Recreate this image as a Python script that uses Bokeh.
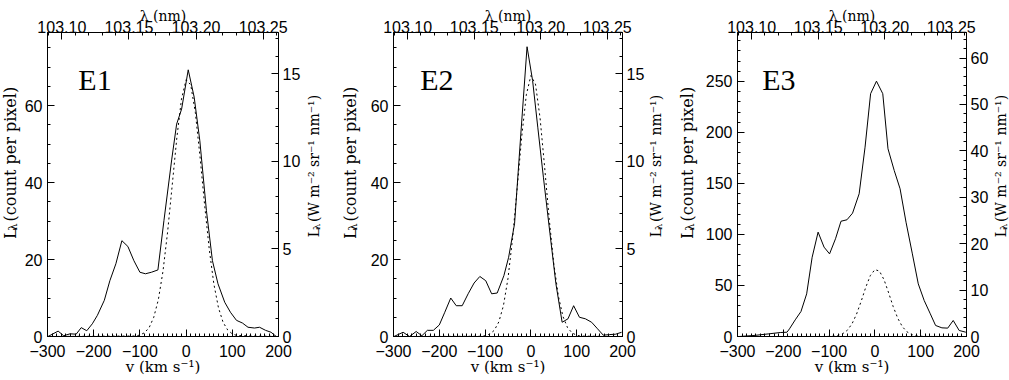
import math
from bokeh.plotting import figure
from bokeh.models import Range1d, LinearAxis, FixedTicker, Label, NumeralTickFormatter
from bokeh.layouts import row
from bokeh.embed import file_html
from bokeh.resources import INLINE

# ---------------- data ----------------
panel_names = ["E1", "E2", "E3"]

# observed profiles: velocity (km/s) and L_lambda (count per pixel)
v_e1 = [-299, -277, -265, -251, -238, -227, -215, -203, -192, -177, -165, -152, -139, -126,
        -113, -100, -88, -75, -61, -48, -31, -20.5, -9.7, 4.6, 17.5, 29.7, 44, 57, 69, 83.6,
        96, 109, 122, 134, 148, 159, 172, 184, 195, 200]
c_e1 = [0, 1.4, 0.2, 0.7, 0.6, 2.3, 1.5, 3.3, 5.5, 9.4, 14.5, 18.9, 24.9, 23.4,
        19.7, 16.7, 16.3, 16.7, 17.3, 30.1, 46.1, 55.2, 59.1, 69.3, 62.2, 50.9, 32.7, 19.7, 13.7, 8.9,
        6.3, 4.2, 3.5, 2.4, 2.2, 2.4, 1.6, 1.1, 0, 0]

v_e2 = [-299, -279, -265, -250.5, -238, -226, -213, -200, -188, -175, -163, -150, -137, -124,
        -111.5, -98.6, -85.7, -73.6, -59, -48.6, -35.7, -22, -8.4, 3.7, 15, 27.3, 41.7, 54.6,
        68.2, 81, 93.3, 106, 119, 132.6, 145.5, 158, 172, 185, 198]
c_e2 = [0, 1.1, 0, 1.3, 0.2, 1.6, 1.6, 3.0, 6.3, 10.0, 8.0, 8.0, 11.1, 13.9,
        15.6, 14.5, 11.1, 11.3, 15.8, 20.6, 29.3, 52.6, 75.3, 66.5, 54.4, 41.4, 26.7, 13.7,
        3.7, 4.6, 8.0, 5.0, 4.6, 3.7, 2.0, 0.35, 0.5, 0.6, 1.1]

v_e3 = [-296, -264, -231.7, -206.6, -192, -186.5, -174, -161.4, -149, -137, -124, -111, -99,
        -86, -74, -61, -48.8, -34.4, -21.5, -9.4, 3.4, 17.2, 28.6, 42.2, 55, 68, 81.8, 94.7,
        107.6, 121, 132.5, 146.3, 159, 171, 184, 198.6]
c_e3 = [0, 1, 2.6, 3.9, 4.2, 7.5, 16.3, 24.5, 41.8, 77.7, 102.3, 87.6, 81,
        95.8, 113, 114.4, 120.9, 139.9, 185.6, 238, 250.3, 238, 184, 162.7, 144.8, 112, 81, 51.6,
        35.3, 22.2, 10.8, 8.5, 8.2, 15.7, 5.9, 4.2]

# dotted (model) profiles, read at these velocities
v_model = [-300, -110, -100, -90, -80, -70, -60, -50, -40, -30, -20, -10, 0,
           10, 20, 30, 40, 50, 60, 70, 80, 90, 100, 110, 200]
m_e1 = [0, 0.13, 0.38, 0.98, 2.3, 5.0, 9.6, 17.0, 27.2, 39.4, 51.7, 61.7, 66.7,
        65.4, 58.2, 46.9, 34.3, 22.8, 13.7, 7.5, 3.7, 1.7, 0.68, 0.25, 0]
m_e2 = [0, 0.06, 0.21, 0.62, 1.6, 3.8, 8.0, 15.1, 25.5, 38.5, 52.0, 62.8, 67.8,
        65.6, 56.8, 44.0, 30.5, 18.9, 10.5, 5.2, 2.3, 0.92, 0.33, 0.1, 0]
m_e3 = [0, 0.03, 0.12, 0.39, 1.1, 2.8, 6.2, 12.4, 22.0, 34.5, 48.2, 59.7, 65.6,
        64.1, 55.6, 42.8, 29.2, 17.8, 9.6, 4.6, 1.9, 0.73, 0.25, 0.07, 0]

# axis ticks
v_ticks = [-300, -200, -100, 0, 100, 200]
lam_ticks = [103.10, 103.15, 103.20, 103.25]
left_ticks_12 = [0, 20, 40, 60]
left_ticks_3 = [0, 50, 100, 150, 200, 250]
right_ticks_12 = [0, 5, 10, 15]
right_ticks_3 = [0, 10, 20, 30, 40, 50, 60]

# axis titles (L with a subscript lambda, then the unit part)
x_title = "v (km s\u207b\u00b9)"
top_title = "\u03bb (nm)"
lt_main, lt_sub, left_rest = "L", "\u03bb", "(count per pixel)"
right_rest = "(W m\u207b\u00b2 sr\u207b\u00b9 nm\u207b\u00b9)"

# ---------------- layout / style constants ----------------
LAM0 = 103.1926          # rest wavelength (nm)
C_KMS = 299792.458
COUNT_PER_UNIT = 4.55    # counts per (W m^-2 sr^-1 nm^-1)
V_LO, V_HI = -300, 200
FW, FH = 232, 304
H = 380
TOP, BOT = 32, 44
TICK_FONT = "Liberation Sans"
TITLE_FONT = "DejaVu Serif"

panels = [
    dict(name=panel_names[0], v=v_e1, c=c_e1, m=m_e1, ytop=79.0, lt=left_ticks_12, lminor=5,
         rt=right_ticks_12, rminor=1, lb=26, rb=24, ex=31),
    dict(name=panel_names[1], v=v_e2, c=c_e2, m=m_e2, ytop=79.0, lt=left_ticks_12, lminor=5,
         rt=right_ticks_12, rminor=1, lb=24, rb=24, ex=27),
    dict(name=panel_names[2], v=v_e3, c=c_e3, m=m_e3, ytop=298.0, lt=left_ticks_3, lminor=10,
         rt=right_ticks_3, rminor=2, lb=33, rb=24, ex=25),
]


def frange(a, b, step):
    out = []
    k = 0
    while True:
        x = a + k * step
        if x > b + 1e-9:
            break
        out.append(round(x, 6))
        k += 1
    return out


def style_axis(ax, ticks, minor, standoff, title=None, title_size="15px", title_standoff=0,
               overrides=None, fmt=None):
    ax.ticker = FixedTicker(ticks=ticks, minor_ticks=minor)
    ax.axis_line_color = "black"
    ax.axis_line_width = 1
    ax.major_tick_line_color = "black"
    ax.minor_tick_line_color = "black"
    ax.major_tick_in = 7
    ax.major_tick_out = 0
    ax.minor_tick_in = 3
    ax.minor_tick_out = 0
    ax.major_label_text_font = TICK_FONT
    ax.major_label_text_font_size = "16px"
    ax.major_label_text_color = "black"
    ax.major_label_standoff = standoff
    if title is not None:
        ax.axis_label = title
        ax.axis_label_text_font = TITLE_FONT
        ax.axis_label_text_font_size = title_size
        ax.axis_label_text_font_style = "normal"
        ax.axis_label_text_color = "black"
        ax.axis_label_standoff = title_standoff
    else:
        ax.axis_label = None
    if overrides:
        ax.major_label_overrides = overrides
    if fmt is not None:
        ax.formatter = fmt


def text_strip(width):
    f = figure(width=width, height=H, x_range=Range1d(0, width), y_range=Range1d(0, H),
               output_backend="svg", toolbar_location=None, min_border=0,
               x_axis_location=None, y_axis_location=None)
    f.grid.visible = False
    f.outline_line_color = None
    f.background_fill_color = "white"
    f.border_fill_color = "white"
    return f


def vertical_title(f, x_mid, y_start_from_top, rest, size, sub_size, l_adv, sub_adv,
                   space_adv, sub_shift):
    """L_lambda (...) reading bottom-to-top; x_mid is the middle of the line, strip px."""
    y0 = H - y_start_from_top
    common = dict(angle=math.pi / 2, text_font=TITLE_FONT, text_color="black",
                  text_align="left", text_baseline="middle")
    f.add_layout(Label(x=x_mid, y=y0, text=lt_main, text_font_size=size, **common))
    f.add_layout(Label(x=x_mid + sub_shift, y=y0 + l_adv, text=lt_sub,
                       text_font_size=sub_size, **common))
    f.add_layout(Label(x=x_mid, y=y0 + l_adv + sub_adv + space_adv, text=rest,
                       text_font_size=size, **common))


def left_title(f, x_mid):
    vertical_title(f, x_mid, 258, left_rest, "16px", "11px", 10.4, 6.4, 5.0, 3.0)


def right_title(f, x_mid):
    vertical_title(f, x_mid, 256, right_rest, "14px", "10px", 9.0, 5.8, 4.4, 2.5)


figs = []
for P in panels:
    ytop = P["ytop"]
    width = P["lb"] + FW + P["rb"]
    lam_lo = LAM0 * (1 + V_LO / C_KMS)
    lam_hi = LAM0 * (1 + V_HI / C_KMS)
    p = figure(width=width, height=H,
               x_range=Range1d(V_LO, V_HI), y_range=Range1d(0, ytop),
               output_backend="svg", toolbar_location=None,
               min_border_left=P["lb"], min_border_right=P["rb"],
               min_border_top=TOP, min_border_bottom=BOT)
    p.extra_x_ranges = {"lam": Range1d(lam_lo, lam_hi)}
    p.extra_y_ranges = {"w": Range1d(0, ytop / COUNT_PER_UNIT)}
    p.grid.visible = False
    p.outline_line_color = "black"
    p.background_fill_color = "white"
    p.border_fill_color = "white"

    style_axis(p.xaxis[0], v_ticks, frange(V_LO, V_HI, 10), 8,
               title=x_title, title_size="15px", title_standoff=-2,
               overrides={t: ("\u2212" + str(-t) if t < 0 else str(t)) for t in v_ticks})
    style_axis(p.yaxis[0], P["lt"], frange(0, ytop, P["lminor"]), 5)

    top_ax = LinearAxis(x_range_name="lam")
    style_axis(top_ax, lam_ticks, frange(103.09, 103.26, 0.01), 0,
               title=top_title, title_size="14px", title_standoff=-6,
               fmt=NumeralTickFormatter(format="0.00"))
    p.add_layout(top_ax, "above")

    right_ax = LinearAxis(y_range_name="w")
    style_axis(right_ax, P["rt"], frange(0, ytop / COUNT_PER_UNIT, P["rminor"]), 4)
    p.add_layout(right_ax, "right")

    # data
    p.line(P["v"], P["c"], line_color="black", line_width=1)
    p.line(v_model, P["m"], line_color="black", line_width=1, line_dash="2 3")

    # panel name (inside the frame)
    p.add_layout(Label(x=V_LO + P["ex"] * (V_HI - V_LO) / FW,
                       y=ytop - 47 * ytop / FH, text=P["name"],
                       text_font="Liberation Serif", text_font_size="30px",
                       text_align="left", text_baseline="alphabetic", text_color="black"))
    figs.append(p)

# vertical title strips between the panels (x: 0-21, 303-367, 647-702, 991-1009)
s_a = text_strip(21)
left_title(s_a, 9.5)
s_b = text_strip(64)
right_title(s_b, 10.2)
left_title(s_b, 46.5)
s_c = text_strip(55)
right_title(s_c, 8.4)
left_title(s_c, 39.5)
s_d = text_strip(18)
right_title(s_d, 9.3)

layout = row(s_a, figs[0], s_b, figs[1], s_c, figs[2], s_d)
open("out.html", "w").write(file_html(layout, INLINE))
